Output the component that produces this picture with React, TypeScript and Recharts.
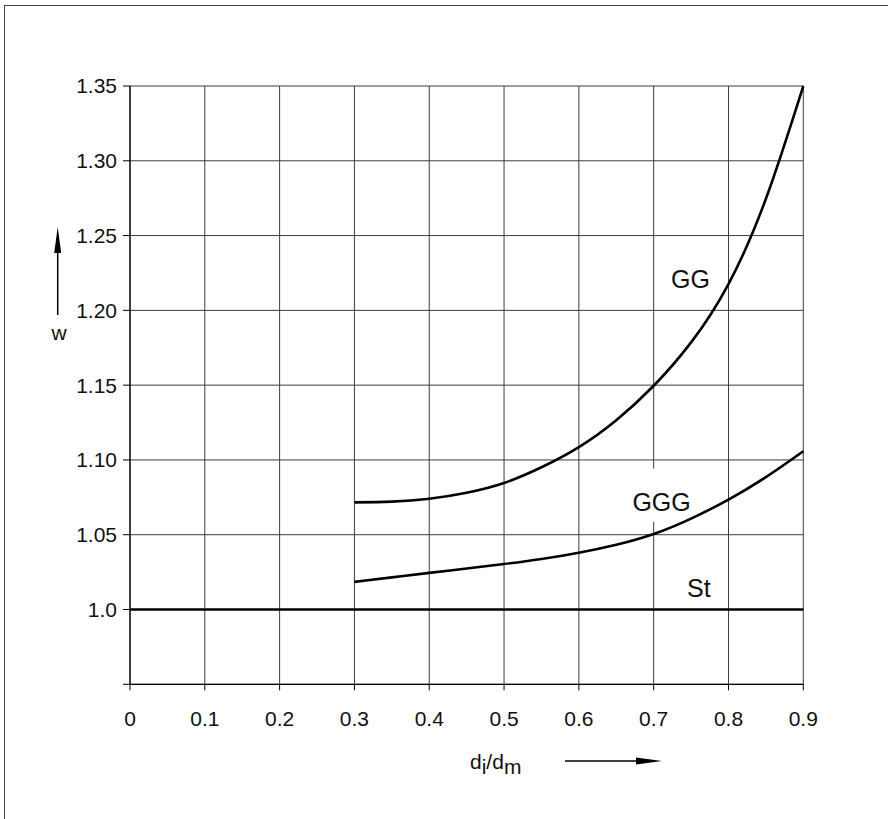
import React from "react";
import { CartesianGrid, Line, LineChart, ReferenceDot, XAxis, YAxis } from "recharts";

const xTicks = [0, 0.1, 0.2, 0.3, 0.4, 0.5, 0.6, 0.7, 0.8, 0.9];
const xTickLabels = ["0", "0.1", "0.2", "0.3", "0.4", "0.5", "0.6", "0.7", "0.8", "0.9"];
const yTicks = [0.95, 1.0, 1.05, 1.1, 1.15, 1.2, 1.25, 1.3, 1.35];
const yTickLabels = ["", "1.0", "1.05", "1.10", "1.15", "1.20", "1.25", "1.30", "1.35"];

// GG curve
const ggX = [0.3, 0.35, 0.4, 0.45, 0.5, 0.55, 0.6, 0.65, 0.7, 0.75, 0.8, 0.85, 0.9];
const ggY = [1.0716, 1.0721, 1.0741, 1.0781, 1.0846, 1.0951, 1.1086, 1.1266, 1.1496, 1.1786, 1.2176, 1.2746, 1.35];

// GGG curve
const gggX = [0.3, 0.35, 0.4, 0.45, 0.5, 0.55, 0.6, 0.65, 0.7, 0.75, 0.8, 0.85, 0.9];
const gggY = [1.0185, 1.0215, 1.0245, 1.0274, 1.0304, 1.0338, 1.038, 1.0433, 1.0505, 1.0608, 1.0735, 1.0885, 1.1058];

// St
const stX = [0, 0.9];
const stY = [1.0, 1.0];

const curveLabels = [
  { text: "GG", x: 0.7493, y: 1.2147, box: false },
  { text: "GGG", x: 0.7106, y: 1.0661, box: true },
  { text: "St", x: 0.7603, y: 1.0084, box: false },
];

const toRows = (xs: number[], ys: number[]) => xs.map((x, i) => ({ x, y: ys[i] }));

const ggData = toRows(ggX, ggY);
const gggData = toRows(gggX, gggY);
const stData = toRows(stX, stY);

const FONT = "'Liberation Sans', Arial, sans-serif";

const CurveLabel = (props: any) => {
  const { viewBox, text, box } = props;
  if (!viewBox) return null;
  const cx = viewBox.x + (viewBox.width || 0) / 2;
  const cy = viewBox.y + (viewBox.height || 0) / 2;
  return (
    <g>
      {box && <rect x={cx - 18} y={cy - 42} width={28} height={53} fill="#fff" />}
      <text x={cx} y={cy} textAnchor="middle" fontSize={25} fontFamily={FONT} fill="#111">
        {text}
      </text>
    </g>
  );
};

const XLabel = (props: any) => {
  const { viewBox } = props;
  if (!viewBox) return null;
  const x0 = viewBox.x;
  const y0 = viewBox.y;
  return (
    <g>
      <text x={x0 + 340} y={y0 + 84.7} fontSize={21} fontFamily={FONT} fill="#111">
        d<tspan dy={5}>i</tspan>
        <tspan dy={-5}>/d</tspan>
        <tspan dy={5}>m</tspan>
      </text>
      <line x1={x0 + 435} y1={y0 + 76.7} x2={x0 + 510} y2={y0 + 76.7} stroke="#000" strokeWidth={1.5} />
      <polygon
        points={`${x0 + 532},${y0 + 76.7} ${x0 + 506},${y0 + 73.2} ${x0 + 506},${y0 + 80.2}`}
        fill="#000"
      />
    </g>
  );
};

const YLabel = (props: any) => {
  const { viewBox } = props;
  if (!viewBox) return null;
  const x = viewBox.x + 57.7;
  const y0 = viewBox.y;
  return (
    <g>
      <line x1={x} y1={y0 + 165} x2={x} y2={y0 + 229} stroke="#000" strokeWidth={1.5} />
      <polygon points={`${x},${y0 + 141} ${x - 3.5},${y0 + 167} ${x + 3.5},${y0 + 167}`} fill="#000" />
      <text x={x + 1.5} y={y0 + 254} textAnchor="middle" fontSize={21} fontFamily={FONT} fill="#111">
        w
      </text>
    </g>
  );
};

const App = () => {
  return (
    <div
      style={{
        position: "absolute",
        left: 0,
        top: 0,
        width: 888,
        height: 819,
        overflow: "hidden",
        background: "#fff",
      }}
    >
      <div
        style={{
          position: "absolute",
          left: 4,
          top: 5,
          width: 1000,
          height: 1000,
          borderTop: "1px solid #444",
          borderLeft: "1px solid #444",
        }}
      />
      <LineChart
        width={888}
        height={819}
        margin={{ top: 86, right: 84.7, bottom: 94.7, left: 0 }}
        style={{ position: "absolute", left: 0, top: 0 }}
      >
        <CartesianGrid stroke="#3c3c3c" strokeWidth={1} />
        <XAxis
          dataKey="x"
          type="number"
          domain={[0, 0.9]}
          ticks={xTicks}
          interval={0}
          allowDuplicatedCategory={false}
          height={40}
          tickSize={6}
          tickMargin={21}
          axisLine={{ stroke: "#000", strokeWidth: 1.2 }}
          tickLine={{ stroke: "#000" }}
          tick={{ fill: "#111", fontSize: 21, fontFamily: FONT }}
          tickFormatter={(v: number) => xTickLabels[xTicks.findIndex((t) => Math.abs(t - v) < 1e-6)] ?? ""}
          label={<XLabel />}
        />
        <YAxis
          type="number"
          domain={[0.95, 1.35]}
          ticks={yTicks}
          interval={0}
          width={130}
          tickSize={7}
          tickMargin={6}
          axisLine={{ stroke: "#000", strokeWidth: 1.2 }}
          tickLine={{ stroke: "#000" }}
          tick={{ fill: "#111", fontSize: 21, fontFamily: FONT }}
          tickFormatter={(v: number) => yTickLabels[yTicks.findIndex((t) => Math.abs(t - v) < 1e-6)] ?? ""}
          label={<YLabel />}
        />
        {curveLabels.map((l) => (
          <ReferenceDot
            key={l.text}
            x={l.x}
            y={l.y}
            r={0}
            fill="none"
            stroke="none"
            ifOverflow="visible"
            label={<CurveLabel text={l.text} box={l.box} />}
          />
        ))}
        <Line
          data={stData}
          dataKey="y"
          type="linear"
          stroke="#000"
          strokeWidth={2.6}
          dot={false}
          activeDot={false}
          isAnimationActive={false}
        />
        <Line
          data={gggData}
          dataKey="y"
          type="natural"
          stroke="#000"
          strokeWidth={2.6}
          dot={false}
          activeDot={false}
          isAnimationActive={false}
        />
        <Line
          data={ggData}
          dataKey="y"
          type="natural"
          stroke="#000"
          strokeWidth={2.6}
          dot={false}
          activeDot={false}
          isAnimationActive={false}
        />
      </LineChart>
    </div>
  );
};

export default App;
